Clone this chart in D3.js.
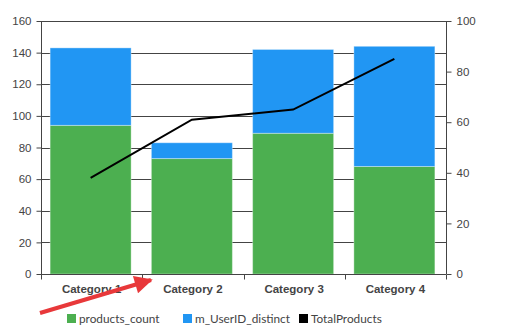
<!DOCTYPE html>
<html>
<head>
<meta charset="utf-8">
<script src="https://cdn.jsdelivr.net/npm/d3@7/dist/d3.min.js"></script>
<style>
  html, body { margin: 0; padding: 0; background: #fff; }
  svg { display: block; font-family: Lato, "Noto Sans", sans-serif; }
</style>
</head>
<body>
<svg id="chart" width="516" height="336"></svg>
<script>
// Categories and series
const categories = ["Category 1", "Category 2", "Category 3", "Category 4"];
const productsCount = [94, 73, 89, 68];
const userIdDistinct = [49, 10, 53, 76];
const totalProducts = [38, 61, 65, 85];
const leftTicks = [0, 20, 40, 60, 80, 100, 120, 140, 160];
const rightTicks = [0, 20, 40, 60, 80, 100];
const legendLabels = ["products_count", "m_UserID_distinct", "TotalProducts"];
const colors = ["#4caf50", "#2196f3", "#000000"];

const svg = d3.select("#chart");
const m = { left: 41, right: 446, top: 21, bottom: 274 };

const x = d3.scaleBand().domain(categories).range([m.left, m.right]).padding(0);
const yL = d3.scaleLinear().domain([0, 160]).range([m.bottom, m.top]);
const yR = d3.scaleLinear().domain([0, 100]).range([m.bottom, m.top]);

const axisColor = "#444";
const textColor = "#444";

// Horizontal gridlines from the left axis
svg.append("g").selectAll("line").data(leftTicks).join("line")
  .attr("x1", m.left).attr("x2", m.right)
  .attr("y1", d => Math.round(yL(d)) + 0.5).attr("y2", d => Math.round(yL(d)) + 0.5)
  .attr("stroke", axisColor).attr("stroke-width", 1);

// Stacked bars
const series = d3.stack().keys([0, 1])(categories.map((c, i) => ({ 0: productsCount[i], 1: userIdDistinct[i], cat: c })));
const barW = x.bandwidth() * 0.8;
svg.append("g").selectAll("g").data(series).join("g")
  .attr("fill", (d, i) => colors[i])
  .selectAll("rect").data(d => d).join("rect")
  .attr("x", d => x(d.data.cat) + (x.bandwidth() - barW) / 2 - 1)
  .attr("width", barW)
  .attr("y", d => yL(d[1]))
  .attr("height", d => yL(d[0]) - yL(d[1]))
  .attr("stroke", "rgba(255,255,255,0.35)").attr("stroke-width", 1);

// Left axis
const gL = svg.append("g").attr("transform", `translate(${m.left + 0.5},0)`)
  .call(d3.axisLeft(yL).tickValues(leftTicks).tickSize(5).tickPadding(5));
// Right axis
const gR = svg.append("g").attr("transform", `translate(${m.right + 0.5},0)`)
  .call(d3.axisRight(yR).tickValues(rightTicks).tickSize(5).tickPadding(5));
// Bottom axis with ticks at category boundaries
const gB = svg.append("g").attr("transform", `translate(0,${m.bottom + 0.5})`)
  .call(d3.axisBottom(x).tickSize(0).tickPadding(10));
const bounds = categories.map(c => x(c)).concat([m.right]);
gB.append("g").selectAll("line").data(bounds).join("line")
  .attr("x1", d => Math.round(d) + 0.5).attr("x2", d => Math.round(d) + 0.5)
  .attr("y1", 0).attr("y2", 5).attr("stroke", axisColor);

[gL, gR, gB].forEach(g => {
  g.selectAll(".domain").attr("stroke", axisColor);
  g.selectAll(".tick line").attr("stroke", axisColor);
  g.selectAll(".tick text").attr("fill", textColor).attr("font-size", 11.5);
});
gB.selectAll(".tick text").attr("font-weight", "bold").attr("font-size", 11.5);
gL.select(".domain").attr("d", `M0,${m.top}V${m.bottom}`);
gR.select(".domain").attr("d", `M0,${m.top}V${m.bottom}`);
gB.select(".domain").attr("d", `M${m.left},0H${m.right}`);

// Line series on the right axis
const line = d3.line().x((d, i) => x(categories[i]) + x.bandwidth() / 2 - 1).y(d => yR(d));
svg.append("path").datum(totalProducts)
  .attr("d", line).attr("fill", "none").attr("stroke", "#000").attr("stroke-width", 2);

// Legend
const legendX = [67, 183, 299];
const lg = svg.append("g").selectAll("g").data(legendLabels).join("g")
  .attr("transform", (d, i) => `translate(${legendX[i]},314)`);
lg.append("rect").attr("width", 9).attr("height", 9).attr("fill", (d, i) => colors[i]);
lg.append("text").attr("x", 12).attr("y", 8.5).attr("font-size", 11.8)
  .attr("fill", textColor).text(d => d);

// Annotation arrow
const defs = svg.append("defs");
defs.append("marker").attr("id", "arrowhead").attr("viewBox", "0 0 10 10")
  .attr("refX", 9).attr("refY", 5).attr("markerWidth", 6).attr("markerHeight", 4.5)
  .attr("orient", "auto").attr("markerUnits", "strokeWidth")
  .append("path").attr("d", "M0,0L10,5L0,10Z").attr("fill", "#e8383a");
svg.append("line").attr("x1", 40).attr("y1", 313).attr("x2", 151).attr("y2", 280)
  .attr("stroke", "#e8383a").attr("stroke-width", 4)
  .attr("marker-end", "url(#arrowhead)");
</script>
</body>
</html>
